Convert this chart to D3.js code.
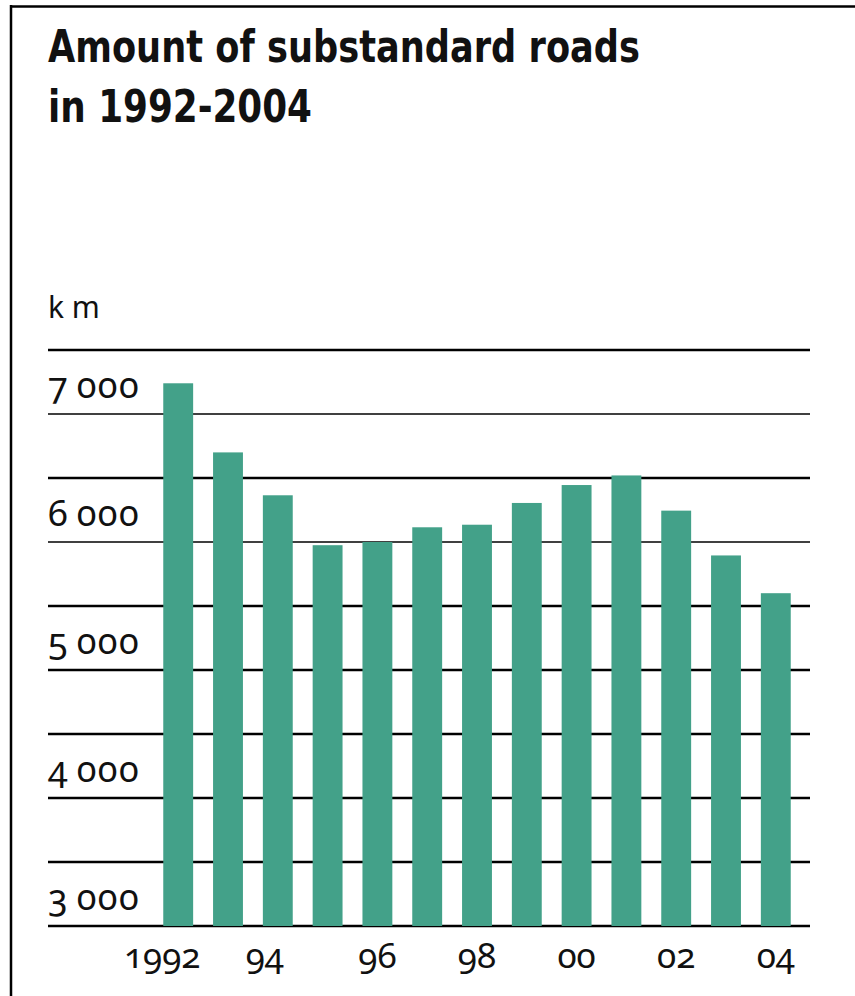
<!DOCTYPE html>
<html>
<head>
<meta charset="utf-8">
<script src="https://cdn.jsdelivr.net/npm/d3@7/dist/d3.min.js"></script>
<style>
  html, body { margin: 0; padding: 0; background: #fff; }
  svg { display: block; }
  .num { font-family: "Noto Sans", "Open Sans", sans-serif; font-variant-numeric: oldstyle-nums; font-feature-settings: "onum" 1; fill: #111; }
  .title { font-family: "Liberation Sans Narrow", "DejaVu Sans Condensed", sans-serif; font-weight: bold; fill: #111; }
</style>
</head>
<body>
<script>
// ---- data ----
const years = ["1992","1993","1994","1995","1996","1997","1998","1999","2000","2001","2002","2003","2004"];
const km = [7240, 6700, 6365, 5975, 6000, 6115, 6135, 6305, 6445, 6520, 6245, 5895, 5600];
const xTickYears = ["1992","1994","1996","1998","2000","2002","2004"];
const xTickLabels = ["1992","94","96","98","00","02","04"];
const gridValues = [3000,3500,4000,4500,5000,5500,6000,6500,7000,7500];
const yTickValues = [3000,4000,5000,6000,7000];
const yTickLabels = ["3\u2009000","4\u2009000","5\u2009000","6\u2009000","7\u2009000"];
const titleLines = ["Amount of substandard roads", "in 1992-2004"];
const unitLabel = "k m";

// ---- layout ----
const W = 855, H = 996;
const svg = d3.select("body").append("svg").attr("width", W).attr("height", H);

// frame (top + left)
svg.append("line").attr("x1", 11).attr("x2", W).attr("y1", 6.5).attr("y2", 6.5)
  .attr("stroke", "#000").attr("stroke-width", 2.5);
svg.append("line").attr("x1", 11).attr("x2", 11).attr("y1", 5).attr("y2", H)
  .attr("stroke", "#000").attr("stroke-width", 2.5);

// title
const titleWidths = [592, 264];
titleLines.forEach((t, i) => {
  svg.append("text").attr("class", "title")
    .attr("x", 48).attr("y", 62 + i * 60)
    .attr("font-size", 44)
    .attr("textLength", titleWidths[i]).attr("lengthAdjust", "spacingAndGlyphs")
    .text(t);
});

// unit
svg.append("text").attr("class", "num").attr("x", 48).attr("y", 318)
  .attr("font-size", 30).text(unitLabel);

// scales
const x = d3.scaleBand().domain(years).range([153.3, 800.7]).paddingInner(0.4).paddingOuter(0.2);
const y = d3.scaleLinear().domain([3000, 7500]).range([926, 350]);

// gridlines
svg.append("g").selectAll("line").data(gridValues).join("line")
  .attr("x1", 48).attr("x2", 810)
  .attr("y1", d => y(d)).attr("y2", d => y(d))
  .attr("stroke", "#000")
  .attr("stroke-width", d => (d === 6000 || d === 7000) ? 1.5 : 2.6);

// y tick labels
svg.append("g").selectAll("text").data(yTickValues).join("text")
  .attr("class", "num")
  .attr("x", 48).attr("y", d => y(d) - 16)
  .attr("font-size", 36)
  .attr("letter-spacing", 1.5)
  .text((d, i) => yTickLabels[i]);

// bars
svg.append("g").selectAll("rect").data(km).join("rect")
  .attr("x", (d, i) => x(years[i]))
  .attr("width", x.bandwidth())
  .attr("y", d => y(d))
  .attr("height", d => y(3000) - y(d))
  .attr("fill", "#43a189");

// x tick labels (slight leftward nudge for the first two labels, as in the original)
const labelNudge = { "1992": -16, "1994": -13 };
svg.append("g").selectAll("text").data(xTickYears).join("text")
  .attr("class", "num")
  .attr("x", d => x(d) + x.bandwidth() / 2 + (labelNudge[d] || 0))
  .attr("y", 968)
  .attr("text-anchor", "middle")
  .attr("font-size", 35)
  .text((d, i) => xTickLabels[i]);
</script>
</body>
</html>
